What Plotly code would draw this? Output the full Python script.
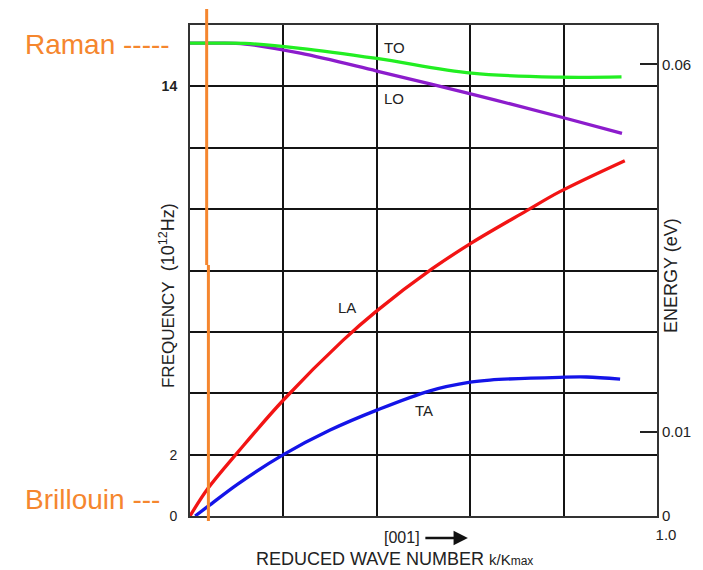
import plotly.graph_objects as go

# Phonon dispersion along [001]; k is the reduced wave number k/Kmax,
# frequencies in units of 10^12 Hz
k_to = [0, 0.06, 0.118, 0.236, 0.4, 0.603, 0.792, 0.924]
f_to = [15.41, 15.41, 15.40, 15.24, 14.91, 14.43, 14.30, 14.31]

k_lo = [0, 0.06, 0.118, 0.236, 0.4, 0.603, 0.792, 0.925]
f_lo = [15.41, 15.41, 15.38, 15.08, 14.50, 13.75, 13.01, 12.47]

k_la = [0, 0.039, 0.103, 0.2, 0.328, 0.398, 0.518, 0.603, 0.721, 0.792, 0.931]
f_la = [0, 0.91, 2.09, 3.78, 5.73, 6.66, 8.05, 8.90, 9.95, 10.57, 11.58]

k_ta = [0.011, 0.039, 0.103, 0.2, 0.3, 0.4, 0.514, 0.6, 0.642, 0.792, 0.849, 0.921]
f_ta = [0, 0.32, 1.05, 2.0, 2.8, 3.45, 4.08, 4.36, 4.43, 4.52, 4.53, 4.46]

# axis ticks
freq_ticks = [0, 2, 4, 6, 8, 10, 12, 14, 16]
freq_labels = ["0", "2", "", "", "", "", "", "<b>14</b>", ""]
k_ticks = [0.2, 0.4, 0.6, 0.8, 1.0]
k_labels = ["", "", "", "", "1.0"]
energy_tick_freq = [0, 2.74, 12.0, 14.72]
energy_labels = ["0", "0.01", "", "0.06"]

# light-scattering probe wave number (Raman / Brillouin)
probe_k = [0.0357, 0.0394]

FONT = "Liberation Sans, Arial, sans-serif"
ORANGE = "#f5862e"
INK = "#222222"

fig = go.Figure()

branches = [
    (k_lo, f_lo, "#8c1ccc", "LO"),
    (k_to, f_to, "#22ee22", "TO"),
    (k_ta, f_ta, "#1414e8", "TA"),
    (k_la, f_la, "#f21414", "LA"),
]
for kx, fy, col, name in branches:
    fig.add_trace(go.Scatter(
        x=kx, y=fy, mode="lines", name=name,
        line=dict(color=col, width=3.3, shape="spline", smoothing=1.0),
        showlegend=False, hoverinfo="skip",
    ))

# empty trace so the energy axis is drawn
fig.add_trace(go.Scatter(x=[None], y=[None], yaxis="y2", showlegend=False, hoverinfo="skip"))

# branch labels
branch_labels = [("TO", 0.437, 15.28), ("LO", 0.437, 13.62), ("LA", 0.336, 6.78), ("TA", 0.501, 3.43)]
for txt, kx, fy in branch_labels:
    fig.add_annotation(x=kx, y=fy, text=txt, showarrow=False,
                       font=dict(family=FONT, size=15, color=INK))

# probe wave number marker (drawn in two strokes)
fig.add_shape(type="line", xref="x", yref="paper", x0=probe_k[0], x1=probe_k[0],
              y0=1.0326, y1=0.511, line=dict(color=ORANGE, width=3), layer="above")
fig.add_shape(type="line", xref="x", yref="paper", x0=probe_k[1], x1=probe_k[1],
              y0=0.511, y1=-0.0102, line=dict(color=ORANGE, width=3), layer="above")

fig.add_annotation(xref="paper", yref="paper", x=-0.3576, y=0.9593, xanchor="left", yanchor="middle",
                   text="Raman -----", showarrow=False, font=dict(family=FONT, size=28, color=ORANGE))
fig.add_annotation(xref="paper", yref="paper", x=-0.3576, y=0.0326, xanchor="left", yanchor="middle",
                   text="Brillouin ---", showarrow=False, font=dict(family=FONT, size=28, color=ORANGE))

# axis titles
fig.add_annotation(xref="paper", yref="paper", x=-0.0493, y=0.450, textangle=-90,
                   xanchor="center", yanchor="middle",
                   text="<span style='font-size:17px'>FREQUENCY</span>  (10<sup>12</sup>Hz)",
                   showarrow=False, font=dict(family=FONT, size=18, color=INK))
fig.add_annotation(xref="paper", yref="paper", x=1.030, y=0.489, textangle=-90,
                   xanchor="center", yanchor="middle",
                   text="ENERGY (eV)", showarrow=False, font=dict(family=FONT, size=18, color=INK))
fig.add_annotation(xref="paper", yref="paper", x=0.438, y=-0.088, xanchor="center", yanchor="middle",
                   borderpad=0,
                   text="REDUCED WAVE NUMBER <span style='font-size:15px'>k/K</span><span style='font-size:12px'>max</span>",
                   showarrow=False, font=dict(family=FONT, size=18, color=INK))
fig.add_annotation(xref="paper", yref="paper", x=0.454, y=-0.0428, yanchor="middle",
                   text="[001]", showarrow=False, font=dict(family=FONT, size=16, color=INK))
fig.add_annotation(xref="paper", yref="paper", x=0.595, y=-0.0448, text="",
                   showarrow=True, ax=-44, ay=0, arrowhead=2, arrowsize=1.1,
                   arrowwidth=2.6, arrowcolor="#111111")

axis_common = dict(
    showgrid=True, gridcolor="#141414", gridwidth=1.8,
    showline=True, linecolor="#333333", linewidth=2, mirror=True,
    zeroline=False, ticks="",
)

fig.update_layout(
    width=703, height=570,
    margin=dict(l=190, r=46, t=25, b=54),
    paper_bgcolor="white", plot_bgcolor="white",
    font=dict(family=FONT, color=INK),
    xaxis=dict(range=[0, 1], tickvals=k_ticks, ticktext=k_labels,
               tickfont=dict(size=15, color=INK), ticklabelshift=9, ticklabelstandoff=4,
               **axis_common),
    yaxis=dict(range=[0, 16], tickvals=freq_ticks, ticktext=freq_labels,
               tickfont=dict(size=14, color=INK), ticklabelstandoff=8,
               **axis_common),
    yaxis2=dict(range=[0, 16], overlaying="y", side="right",
                tickvals=energy_tick_freq, ticktext=energy_labels,
                ticks="inside", ticklen=17, tickwidth=2, tickcolor="#222222",
                tickfont=dict(size=15, color=INK), ticklabelstandoff=4,
                showgrid=False, showline=False, zeroline=False),
)

fig.write_html("out.html", config={"displayModeBar": False})
